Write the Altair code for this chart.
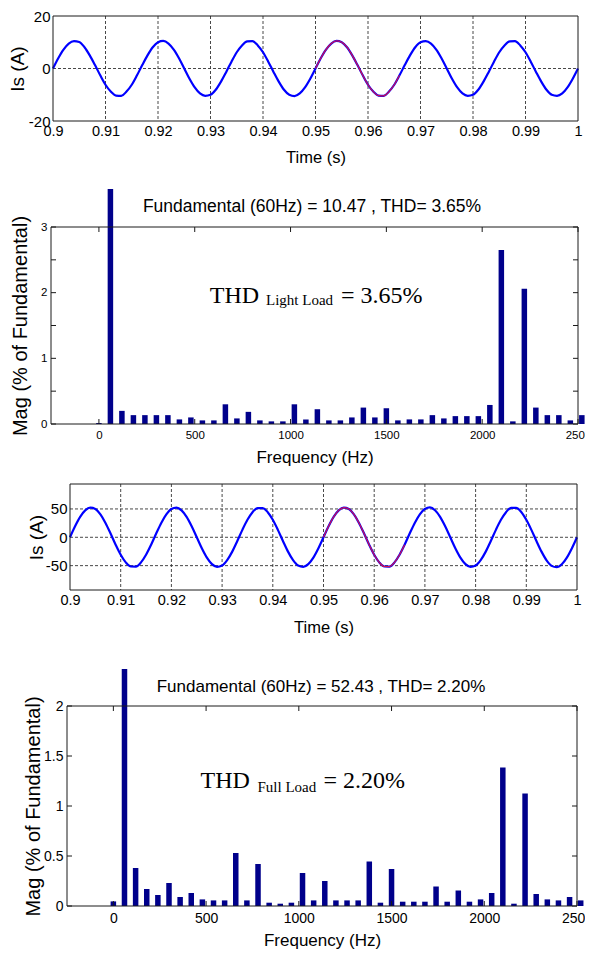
import altair as alt
import pandas as pd

# ---------------- data ----------------
time_s = [
    0.900, 0.901, 0.902, 0.903, 0.904, 0.905, 0.906, 0.907, 0.908, 0.909,
    0.910, 0.911, 0.912, 0.913, 0.914, 0.915, 0.916, 0.917, 0.918, 0.919,
    0.920, 0.921, 0.922, 0.923, 0.924, 0.925, 0.926, 0.927, 0.928, 0.929,
    0.930, 0.931, 0.932, 0.933, 0.934, 0.935, 0.936, 0.937, 0.938, 0.939,
    0.940, 0.941, 0.942, 0.943, 0.944, 0.945, 0.946, 0.947, 0.948, 0.949,
    0.950, 0.951, 0.952, 0.953, 0.954, 0.955, 0.956, 0.957, 0.958, 0.959,
    0.960, 0.961, 0.962, 0.963, 0.964, 0.965, 0.966, 0.967, 0.968, 0.969,
    0.970, 0.971, 0.972, 0.973, 0.974, 0.975, 0.976, 0.977, 0.978, 0.979,
    0.980, 0.981, 0.982, 0.983, 0.984, 0.985, 0.986, 0.987, 0.988, 0.989,
    0.990, 0.991, 0.992, 0.993, 0.994, 0.995, 0.996, 0.997, 0.998, 0.999,
    1.000,
]

is_light = [
    0.0, 3.9, 7.2, 9.5, 10.4, 10.1, 8.1, 5.0, 1.3, -2.6,
    -6.2, -8.8, -10.3, -10.4, -8.8, -6.2, -2.6, 1.3, 5.0, 8.1,
    10.0, 10.5, 9.5, 7.2, 3.9, 0.0, -3.9, -7.2, -9.5, -10.4,
    -10.0, -8.1, -5.0, -1.3, 2.6, 6.2, 8.8, 10.3, 10.4, 8.8,
    6.2, 2.6, -1.3, -5.0, -8.1, -10.0, -10.5, -9.5, -7.2, -3.9,
    0.0, 3.9, 7.2, 9.5, 10.5, 10.0, 8.1, 5.0, 1.3, -2.6,
    -6.2, -8.8, -10.3, -10.4, -8.8, -6.2, -2.6, 1.3, 5.0, 8.1,
    10.0, 10.4, 9.5, 7.2, 3.9, 0.0, -3.9, -7.2, -9.5, -10.4,
    -10.0, -8.1, -5.0, -1.3, 2.6, 6.2, 8.8, 10.3, 10.4, 8.8,
    6.2, 2.6, -1.3, -5.0, -8.1, -10.0, -10.4, -9.5, -7.2, -3.9,
    0.0,
]

is_full = [
    0.0, 19.3, 35.9, 47.4, 52.3, 49.9, 40.4, 25.3, 6.6, -13.1,
    -30.8, -44.3, -51.5, -51.6, -44.3, -30.8, -13.1, 6.6, 25.3, 40.4,
    49.9, 52.4, 47.4, 35.9, 19.3, 0.0, -19.3, -35.9, -47.4, -52.3,
    -49.9, -40.4, -25.3, -6.6, 13.1, 30.8, 44.3, 51.5, 51.6, 44.3,
    30.8, 13.1, -6.6, -25.3, -40.4, -49.9, -52.3, -47.4, -35.9, -19.3,
    0.0, 19.3, 35.9, 47.4, 52.3, 49.9, 40.4, 25.3, 6.6, -13.1,
    -30.8, -44.3, -51.5, -51.6, -44.3, -30.8, -13.1, 6.6, 25.3, 40.4,
    49.9, 52.6, 47.6, 35.9, 19.3, 0.0, -19.3, -35.9, -47.4, -52.3,
    -49.9, -40.4, -25.3, -6.6, 13.1, 30.8, 44.3, 51.8, 52.0, 44.6,
    30.8, 13.1, -6.6, -25.3, -40.6, -50.4, -52.8, -47.6, -35.9, -19.3,
    0.0,
]

freq_hz = [
    0, 60, 120, 180, 240, 300, 360, 420, 480, 540, 600,
    660, 720, 780, 840, 900, 960, 1020, 1080, 1140, 1200,
    1260, 1320, 1380, 1440, 1500, 1560, 1620, 1680, 1740, 1800,
    1860, 1920, 1980, 2040, 2100, 2160, 2220, 2280, 2340, 2400,
    2460, 2520, 2580,
]

mag_light = [
    0.015, 3.58, 0.20, 0.135, 0.135, 0.135, 0.135, 0.07, 0.10, 0.055, 0.055,
    0.30, 0.085, 0.185, 0.055, 0.04, 0.04, 0.30, 0.07, 0.225, 0.055,
    0.055, 0.10, 0.25, 0.10, 0.24, 0.055, 0.07, 0.07, 0.135, 0.085,
    0.12, 0.12, 0.12, 0.29, 2.65, 0.04, 2.06, 0.25, 0.135, 0.135,
    0.055, 0.135, 0.025,
]

mag_full = [
    0.046, 2.37, 0.38, 0.17, 0.11, 0.23, 0.09, 0.13, 0.066, 0.056, 0.056,
    0.53, 0.056, 0.42, 0.033, 0.023, 0.033, 0.33, 0.056, 0.25, 0.056,
    0.056, 0.056, 0.445, 0.033, 0.37, 0.043, 0.043, 0.043, 0.195, 0.043,
    0.155, 0.043, 0.066, 0.13, 1.385, 0.023, 1.125, 0.12, 0.066, 0.056,
    0.09, 0.056, 0.056,
]

time_ticks = [0.9, 0.91, 0.92, 0.93, 0.94, 0.95, 0.96, 0.97, 0.98, 0.99, 1.0]
time_grid = [0.91, 0.92, 0.93, 0.94, 0.95, 0.96, 0.97, 0.98, 0.99]
light_i_ticks = [-20, 0, 20]
light_i_grid = [0]
full_i_ticks = [-50, 0, 50]
full_i_grid = [-50, 0, 50]
freq_ticks = [0, 500, 1000, 1500, 2000, 2500]
mag_light_ticks = [0, 0.5, 1, 1.5, 2, 2.5, 3]
mag_full_ticks = [0, 0.5, 1, 1.5, 2]

title_light = "Fundamental (60Hz) = 10.47 , THD= 3.65%"
title_full = "Fundamental (60Hz) = 52.43 , THD= 2.20%"

# ---------------- style ----------------
FONT = "Liberation Sans"
SERIF = "Liberation Serif"
FRAME = "#1a1a1a"
W = 527
LEFT = 50
RIGHT = 560


def x_axis(ticks, size, pad, title, tsize, ty):
    return alt.Axis(values=ticks, labelExpr="toString(datum.value)", domain=False,
                    ticks=False, tickSize=0, grid=False, labelFlush=False,
                    labelOverlap=False, labelFont=FONT, labelFontSize=size,
                    labelColor="black", labelPadding=pad, title=title,
                    titleFont=FONT, titleFontSize=tsize, titleFontWeight="normal",
                    titleColor="black", titleBaseline="middle", titleY=ty)


def y_axis(ticks, size, pad, title, tsize, tx, off):
    return alt.Axis(values=ticks, labelExpr="toString(datum.value)", domain=False,
                    ticks=False, tickSize=0, grid=False, labelFlush=False,
                    labelOverlap=False, labelFont=FONT, labelFontSize=size,
                    labelColor="black", labelPadding=pad, offset=off, title=title,
                    titleFont=FONT, titleFontSize=tsize, titleFontWeight="normal",
                    titleColor="black", titleBaseline="middle", titleX=tx,
                    titleAngle=270)


def frame_and_guide(a, r, H, T, B):
    one = pd.DataFrame({"k": [0]})
    box = alt.Chart(one).mark_rect(fillOpacity=0, stroke=FRAME, strokeWidth=1).encode(
        x=alt.value(a), x2=alt.value(r), y=alt.value(0), y2=alt.value(H))
    guide = alt.Chart(one).mark_rect(opacity=0, fillOpacity=0, strokeOpacity=0).encode(
        x=alt.value(-LEFT), x2=alt.value(RIGHT), y=alt.value(-T), y2=alt.value(H + B))
    return box, guide


def time_panel(values, y_dom, y_ticks, y_grid, a, r, H, T, B, ytx, xsz, ysz, ty):
    df = pd.DataFrame({"t": time_s, "i": values})
    xs = alt.Scale(domain=[0.9, 1.0], range=[a, r], nice=False, zero=False, padding=0)
    ys = alt.Scale(domain=y_dom, nice=False, zero=False)
    line = alt.Chart(df).mark_line(color="#0000FF", strokeWidth=2.2,
                                   interpolate="monotone").encode(
        x=alt.X("t:Q", scale=xs, axis=x_axis(time_ticks, xsz, 3, "Time (s)", 16.5, ty)),
        y=alt.Y("i:Q", scale=ys, axis=y_axis(y_ticks, ysz, 3, "Is (A)", 19, ytx, -a)),
    )
    red = alt.Chart(df).transform_filter(
        (alt.datum.t >= 0.95) & (alt.datum.t <= 0.9665)
    ).mark_line(color="#D01050", strokeWidth=1.2, interpolate="monotone").encode(
        x=alt.X("t:Q", scale=xs), y=alt.Y("i:Q", scale=ys))
    vgrid = alt.Chart(pd.DataFrame({"t": time_grid})).mark_rule(
        color="#333333", strokeWidth=0.9, strokeDash=[3, 2]).encode(
        x=alt.X("t:Q", scale=xs), y=alt.value(0), y2=alt.value(H))
    hgrid = alt.Chart(pd.DataFrame({"i": y_grid})).mark_rule(
        color="#333333", strokeWidth=0.9, strokeDash=[3, 2]).encode(
        y=alt.Y("i:Q", scale=ys), x=alt.value(a), x2=alt.value(r))
    box, guide = frame_and_guide(a, r, H, T, B)
    return alt.layer(vgrid, hgrid, line, red, box, guide).properties(width=W, height=H)


def bar_panel(mags, y_max, y_ticks, a, r, H, T, B, title, tsize, tcx, tcy, tick_size,
              ytx, thd, sub, ann_x, ann_y, sub_x, sub_y, eq_x, fty):
    df = pd.DataFrame({"f": freq_hz, "m": mags})
    xs = alt.Scale(domain=[-250, 2500], range=[a, r], nice=False, zero=False, padding=0)
    ys = alt.Scale(domain=[0, y_max], nice=False, zero=True, padding=0)
    bars = alt.Chart(df).mark_bar(size=5.5, clip=False, color="#00008B").encode(
        x=alt.X("f:Q", scale=xs,
                axis=x_axis(freq_ticks, tick_size, 5, "Frequency (Hz)", 17, fty)),
        y=alt.Y("m:Q", scale=ys, stack=None,
                axis=y_axis(y_ticks, tick_size, 4, "Mag (% of Fundamental)", 20, ytx, -a)),
    )
    xt = pd.DataFrame({"f": freq_ticks})
    yt = pd.DataFrame({"m": y_ticks})
    tb = alt.Chart(xt).mark_rule(color=FRAME).encode(
        x=alt.X("f:Q", scale=xs), y=alt.value(H), y2=alt.value(H - 5))
    tt = alt.Chart(xt).mark_rule(color=FRAME).encode(
        x=alt.X("f:Q", scale=xs), y=alt.value(0), y2=alt.value(5))
    tl = alt.Chart(yt).mark_rule(color=FRAME).encode(
        y=alt.Y("m:Q", scale=ys), x=alt.value(a), x2=alt.value(a + 5))
    tr = alt.Chart(yt).mark_rule(color=FRAME).encode(
        y=alt.Y("m:Q", scale=ys), x=alt.value(r), x2=alt.value(r - 5))
    main_txt = alt.Chart(pd.DataFrame({"f": [ann_x, eq_x], "m": [ann_y, ann_y],
                                       "s": ["THD", thd]})).mark_text(
        font=SERIF, fontSize=24, align="left", baseline="alphabetic", color="black").encode(
        x=alt.X("f:Q", scale=xs), y=alt.Y("m:Q", scale=ys), text="s:N")
    sub_txt = alt.Chart(pd.DataFrame({"f": [sub_x], "m": [sub_y], "s": [sub]})).mark_text(
        font=SERIF, fontSize=15, align="left", baseline="alphabetic", color="black").encode(
        x=alt.X("f:Q", scale=xs), y=alt.Y("m:Q", scale=ys), text="s:N")
    ttl = alt.Chart(pd.DataFrame({"s": [title]})).mark_text(
        font=FONT, fontSize=tsize, align="center", baseline="middle", color="black").encode(
        x=alt.value(tcx), y=alt.value(tcy), text="s:N")
    box, guide = frame_and_guide(a, r, H, T, B)
    return alt.layer(bars, tb, tt, tl, tr, main_txt, sub_txt, ttl, box, guide).properties(
        width=W, height=H)


p1 = time_panel(is_light, [-20, 20], light_i_ticks, light_i_grid,
                2, 527, 105, 20, 52, -35.5, 14.5, 15, 36)
p2 = bar_panel(mag_light, 3, mag_light_ticks, 0, 527, 197, 54, 50,
               title_light, 17.5, 261, -20, 11.5, -31,
               "= 3.65%", "Light Load", 579, 1.843, 872, 1.812, 1263, 33)
p3 = time_panel(is_full, [-93, 94], full_i_ticks, full_i_grid,
                19, 526, 106, 10, 53, -34, 14.5, 15, 37)
p4 = bar_panel(mag_full, 2, mag_full_ticks, 16, 526, 200, 63, 48,
               title_full, 17, 270, -19, 14, -34,
               "= 2.20%", "Full Load", 470, 1.18, 777, 1.14, 1133, 34)

chart = alt.vconcat(p1, p2, p3, p4, spacing=0).properties(
    padding={"left": -7, "top": -12, "right": -26, "bottom": -4},
).configure_view(strokeWidth=0)

chart.save("out.html", embed_options={"renderer": "svg", "actions": False})
